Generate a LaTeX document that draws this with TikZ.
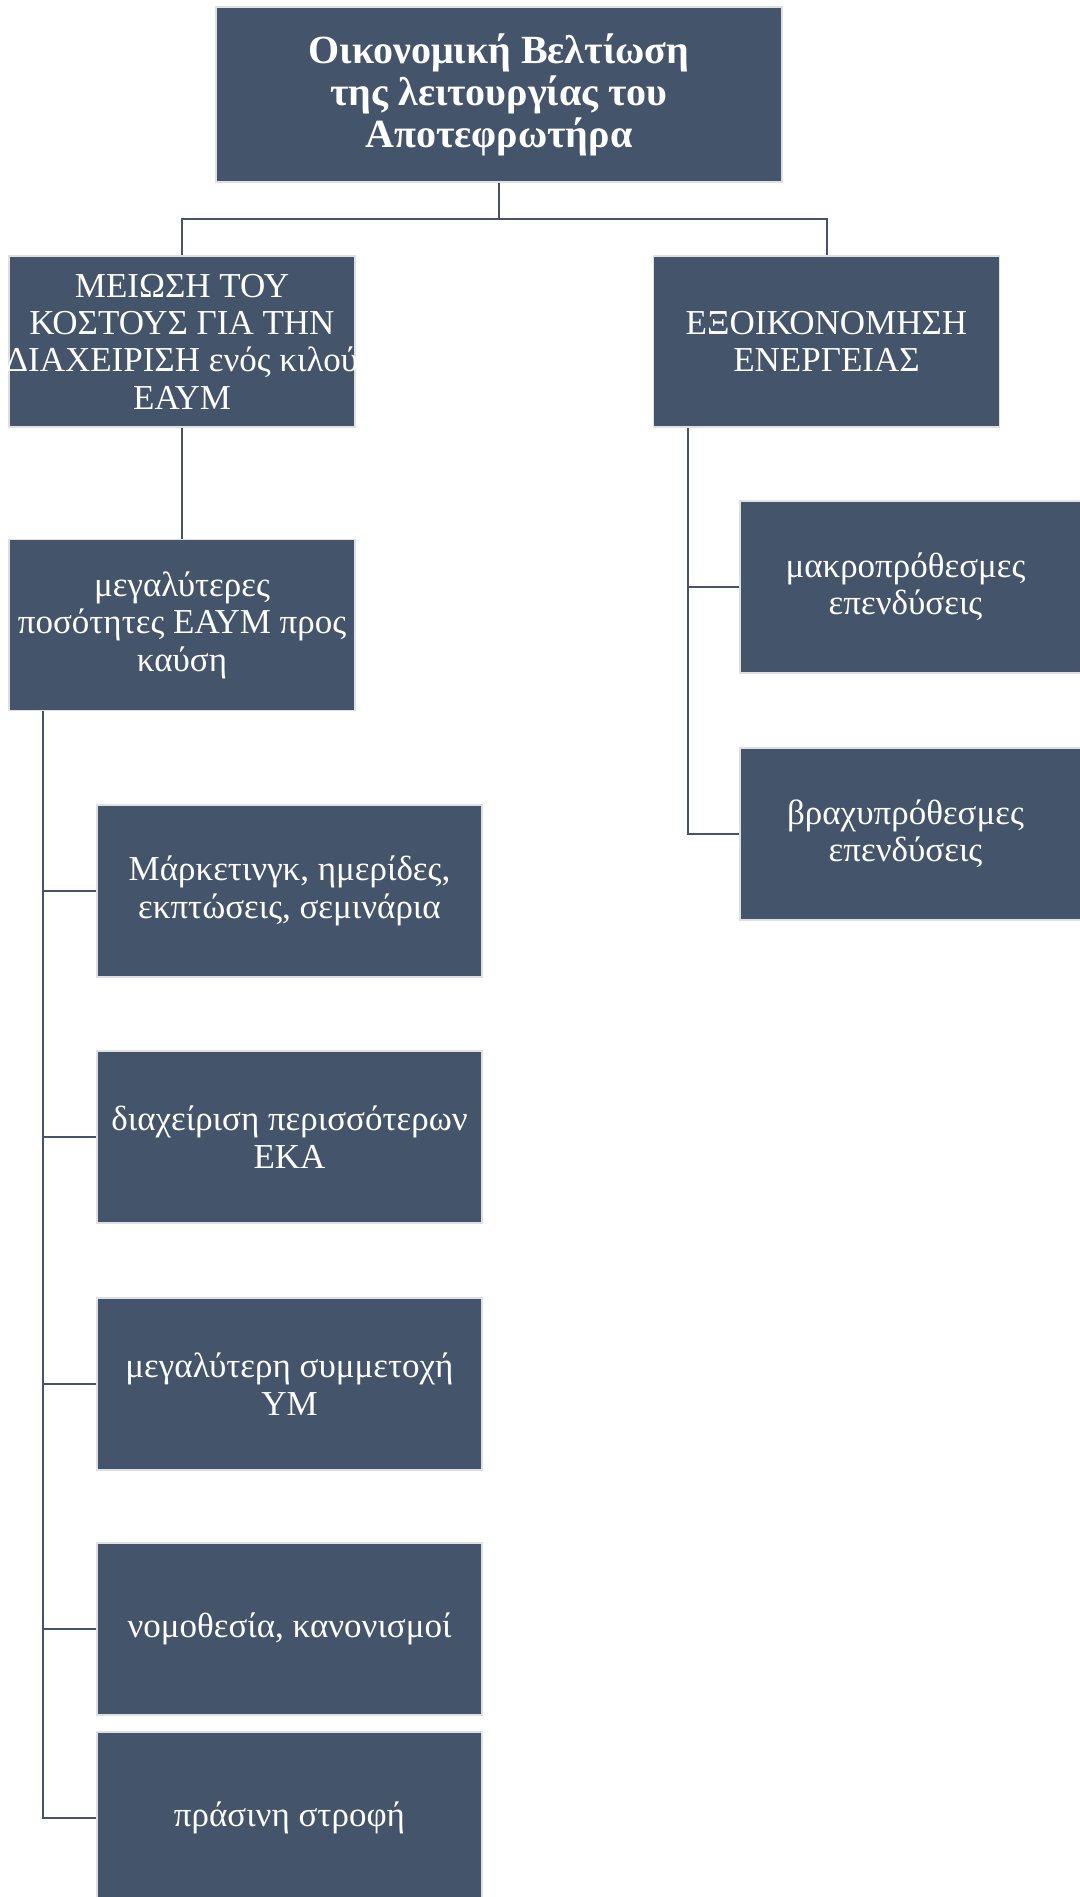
\documentclass[tikz,border=0pt]{standalone}
\usepackage{fontspec}
\setmainfont{Liberation Serif}
\definecolor{orgBox}{RGB}{68,84,106}
\definecolor{orgEdge}{RGB}{222,224,228}
\newcommand{\leafbox}[5]{%
  \node[leaf] (#1) at (#2,#3) {#5};
  \draw[link] (#4 |- #1.west) -- (#1.west);
}

\begin{document}
\begin{tikzpicture}[x=0.5pt,y=-0.5pt,
    box/.style={fill=orgBox,draw=orgEdge,line width=0.75pt,text=white,align=center,
                inner sep=1pt,font=\fontsize{17.5}{18.7}\selectfont},
    mid/.style={box,minimum width=173pt,minimum height=85.5pt},
    leaf/.style={box,minimum width=192.5pt,minimum height=86pt},
    link/.style={draw=orgBox,line width=1pt}]
  % --- Cadre : 1080 x 1897 px ---
  \fill[white] (0,0) rectangle (1080,1897);
  \useasboundingbox (0,0) rectangle (1080,1897);
  \clip (0,0) rectangle (1080,1897);
  % --- Racine et deux branches ---
  \node[box,minimum width=283pt,minimum height=87.5pt,
        font=\bfseries\fontsize{20}{21}\selectfont] (root) at (499,94.5)
        {Οικονομική Βελτίωση\\της λειτουργίας του\\Αποτεφρωτήρα};
  \node[mid] (cost) at (182,341.5)
        {ΜΕΙΩΣΗ ΤΟΥ\\ΚΟΣΤΟΥΣ ΓΙΑ ΤΗΝ\\\makebox[168pt]{ΔΙΑΧΕΙΡΙΣΗ ενός κιλού}\\ΕΑΥΜ};
  \node[mid] (energy) at (826.5,341.5) {ΕΞΟΙΚΟΝΟΜΗΣΗ\\ΕΝΕΡΓΕΙΑΣ};
  \node[mid] (burn) at (182,625) {μεγαλύτερες\\ποσότητες ΕΑΥΜ προς\\καύση};
  \coordinate (bus) at (499,219);
  \draw[link] (root.south) -- (bus);
  \draw[link] (cost.north) |- (bus) -| (energy.north);
  \draw[link] (cost.south) -- (burn.north);
  % --- Feuilles de gauche ---
  \coordinate (spineL) at (43,0);
  \foreach \n/\y/\txt in {1/891/{Μάρκετινγκ, ημερίδες,\\εκπτώσεις, σεμινάρια},
                          2/1137/{διαχείριση περισσότερων\\ΕΚΑ},
                          3/1384/{μεγαλύτερη συμμετοχή\\ΥΜ},
                          4/1629/{νομοθεσία, κανονισμοί},
                          5/1818/{πράσινη στροφή}} {
    \leafbox{m\n}{289.5}{\y}{spineL}{\txt}
  }
  \draw[link] (burn.south -| spineL) |- (m5.west);
  % --- Feuilles de droite (texte décalé, boîte coupée au bord) ---
  \coordinate (spineR) at (688,0);
  \leafbox{r1}{932.5}{587}{spineR}{μακροπρόθεσμες\hspace*{27pt}\\επενδύσεις\hspace*{27pt}}
  \leafbox{r2}{932.5}{834}{spineR}{βραχυπρόθεσμες\hspace*{27pt}\\επενδύσεις\hspace*{27pt}}
  \draw[link] (energy.south -| spineR) |- (r2.west);
\end{tikzpicture}
\end{document}
